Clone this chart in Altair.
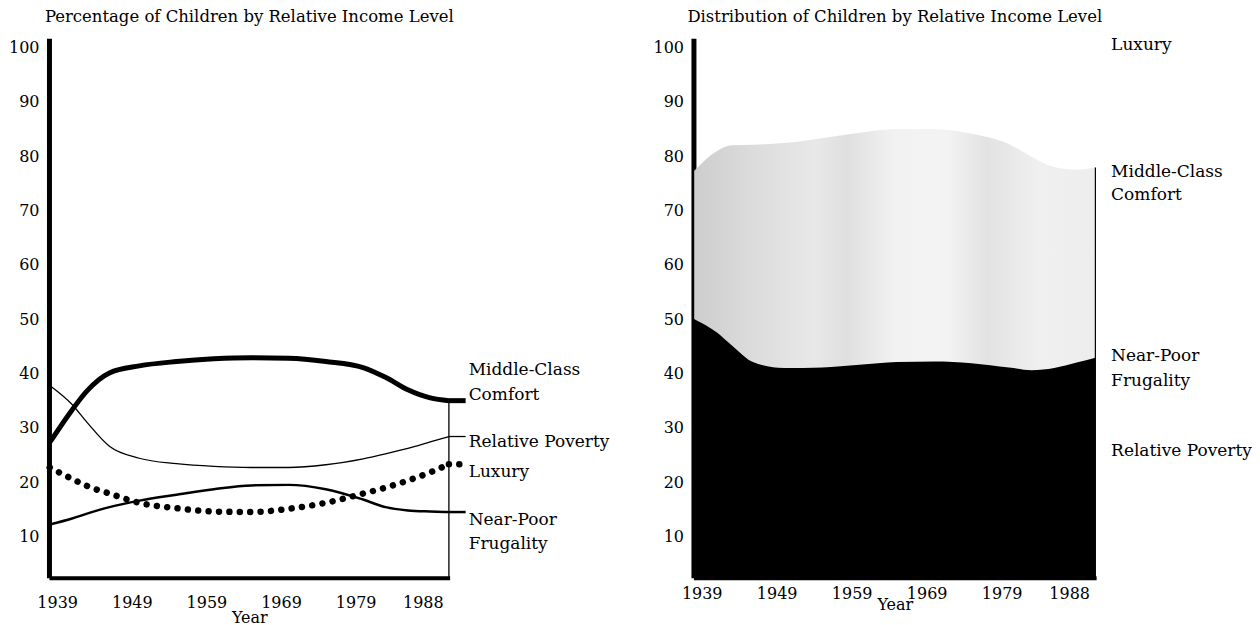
import altair as alt
import pandas as pd

# ---------------- data ----------------
years = [1938, 1941, 1943, 1946, 1950, 1955, 1960, 1965, 1970, 1975, 1980, 1983, 1986, 1989, 1991.5]
middle_class = [27.3, 33.3, 36.8, 40.1, 41.4, 42.2, 42.7, 42.9, 42.8, 42.2, 41.1, 39.3, 37.0, 35.5, 35.0]
relative_poverty = [37.8, 34.3, 31.0, 26.6, 24.4, 23.4, 22.9, 22.7, 22.7, 23.2, 24.3, 25.2, 26.2, 27.4, 28.4]
luxury = [22.7, 20.6, 19.3, 17.9, 16.2, 15.2, 14.6, 14.5, 15.1, 16.2, 17.9, 19.0, 20.3, 21.8, 23.3]
near_poor = [12.2, 13.3, 14.2, 15.4, 16.6, 17.7, 18.7, 19.4, 19.5, 18.7, 16.8, 15.4, 14.8, 14.6, 14.5]

series_names = ["Relative Poverty", "Near-Poor Frugality", "Middle-Class Comfort", "Luxury"]
year_ticks = [1939, 1949, 1959, 1969, 1979, 1988]
value_ticks = [10, 20, 30, 40, 50, 60, 70, 80, 90, 100]

left_title = "Percentage of Children by Relative Income Level"
right_title = "Distribution of Children by Relative Income Level"

left_label_text = ["Middle-Class", "Comfort", "Relative Poverty", "Luxury", "Near-Poor", "Frugality"]
left_label_value = [40.6, 36.0, 27.4, 21.8, 13.0, 8.6]
right_label_text = ["Luxury", "Middle-Class", "Comfort", "Near-Poor", "Frugality", "Relative Poverty"]
right_label_value = [100.5, 77.0, 72.8, 43.2, 38.6, 25.7]

# ---------------- tables ----------------
rows = []
for order, (name, vals) in enumerate(zip(series_names, [relative_poverty, near_poor, middle_class, luxury])):
    for yr, v in zip(years, vals):
        rows.append({"series": name, "year": yr, "value": v, "order": order})
df = pd.DataFrame(rows)
left_labels = pd.DataFrame({"text": left_label_text, "value": left_label_value})
right_labels = pd.DataFrame({"text": right_label_text, "value": right_label_value})
last_year = years[-1]

FONT = "DejaVu Serif"
W_L, W_R, H = 401, 403, 540
X_DOMAIN = [1937.9, 1991.6]
Y_DOMAIN = [2.4, 101.7]

xs = alt.Scale(domain=X_DOMAIN, nice=False, zero=False)
ys = alt.Scale(domain=Y_DOMAIN, nice=False, zero=False)


def x_axis(label_pad, title_y):
    return alt.Axis(values=year_ticks, format="d", title="Year", ticks=False, tickSize=0,
                    grid=False, domainColor="black", domainWidth=4, labelFont=FONT,
                    labelFontSize=16, labelColor="black", labelPadding=label_pad,
                    labelFlush=False, labelOverlap=False, titleFont=FONT, titleFontSize=16,
                    titleFontWeight="normal", titleColor="black", titleY=title_y,
                    titleBaseline="middle")


y_axis = alt.Axis(values=value_ticks, title=None, ticks=False, tickSize=0, grid=False,
                  domainColor="black", domainWidth=5, labelFont=FONT, labelFontSize=16,
                  labelColor="black", labelPadding=10, labelFlush=False, labelOverlap=False)

xl_axis = x_axis(17, 40)
xr_axis = x_axis(8, 27)


def title(text, offset):
    return alt.TitleParams(text=text, font=FONT, fontSize=16.5, fontWeight="normal",
                           color="black", anchor="middle", offset=offset)


# ---------------- left chart: lines ----------------
base = alt.Chart(df)
XL = alt.X("year:Q", scale=xs, axis=xl_axis)
YV = alt.Y("value:Q", scale=ys, axis=y_axis)

styles = {
    "Middle-Class Comfort": dict(strokeWidth=5, strokeCap="butt"),
    "Relative Poverty": dict(strokeWidth=1.3),
    "Near-Poor Frugality": dict(strokeWidth=2.5),
    "Luxury": dict(strokeWidth=6.5, strokeDash=[0.01, 10.4], strokeCap="round"),
}

left_layers = []
for name in ["Middle-Class Comfort", "Relative Poverty", "Near-Poor Frugality", "Luxury"]:
    st = styles[name]
    sel = base.transform_filter(alt.datum.series == name)
    left_layers.append(
        sel.mark_line(color="black", interpolate="monotone", **st).encode(x=XL, y=YV)
    )
    # short leader out to the label
    left_layers.append(
        sel.transform_filter(alt.datum.year == last_year)
        .mark_rule(color="black", **st)
        .encode(x=XL, x2=alt.value(417), y=YV)
    )

# right border line of the left panel
left_layers.append(
    base.transform_filter((alt.datum.series == "Middle-Class Comfort") & (alt.datum.year == last_year))
    .mark_rule(color="black", strokeWidth=1.3)
    .encode(x=XL, y=YV, y2=alt.value(H))
)

left_layers.append(
    alt.Chart(left_labels).mark_text(align="left", baseline="middle", font=FONT, fontSize=17,
                                     color="black")
    .encode(x=alt.value(420), y=alt.Y("value:Q", scale=ys, axis=y_axis), text="text:N")
)

left = alt.layer(*left_layers).properties(width=W_L, height=H, title=title(left_title, 13))

# ---------------- right chart: stacked areas ----------------
XR = alt.X("year:Q", scale=xs, axis=xr_axis)
stacked = base.transform_stack(stack="value", groupby=["year"], as_=["y0", "y1"],
                               sort=[alt.SortField("order", order="ascending")])

gray_fill = alt.LinearGradient(
    gradient="linear", x1=0, x2=1, y1=0, y2=0,
    stops=[
        alt.GradientStop(offset=0.0, color="#cdcdcd"),
        alt.GradientStop(offset=0.15, color="#dcdcdc"),
        alt.GradientStop(offset=0.3, color="#e8e8e8"),
        alt.GradientStop(offset=0.38, color="#dfdfdf"),
        alt.GradientStop(offset=0.5, color="#f2f2f2"),
        alt.GradientStop(offset=0.63, color="#f3f3f3"),
        alt.GradientStop(offset=0.73, color="#e2e2e2"),
        alt.GradientStop(offset=0.86, color="#f0f0f0"),
        alt.GradientStop(offset=1.0, color="#ededed"),
    ],
)

right_layers = [
    stacked.transform_filter(alt.datum.series == "Middle-Class Comfort")
    .mark_area(color=gray_fill, interpolate="monotone", clip=True)
    .encode(x=XR, y=alt.Y("y1:Q", scale=ys, axis=y_axis), y2="y0:Q"),
    stacked.transform_filter(alt.datum.series == "Near-Poor Frugality")
    .mark_area(color="black", interpolate="monotone", clip=True)
    .encode(x=XR, y=alt.Y("y1:Q", scale=ys, axis=y_axis), y2=alt.datum(0)),
    stacked.transform_filter((alt.datum.series == "Middle-Class Comfort") & (alt.datum.year == last_year))
    .mark_rule(color="black", strokeWidth=1.2)
    .encode(x=XR, y=alt.Y("y1:Q", scale=ys, axis=y_axis), y2=alt.value(H)),
    alt.Chart(right_labels).mark_text(align="left", baseline="middle", font=FONT, fontSize=17,
                                      color="black")
    .encode(x=alt.value(418), y=alt.Y("value:Q", scale=ys, axis=y_axis), text="text:N"),
]

right = alt.layer(*right_layers).properties(width=W_R, height=H, title=title(right_title, 10))

chart = (
    alt.hconcat(left, right, spacing=244, bounds="flush")
    .configure_view(stroke=None)
    .properties(padding=0, background="white")
)

chart.save("out.html", embed_options={"renderer": "svg", "actions": False})
